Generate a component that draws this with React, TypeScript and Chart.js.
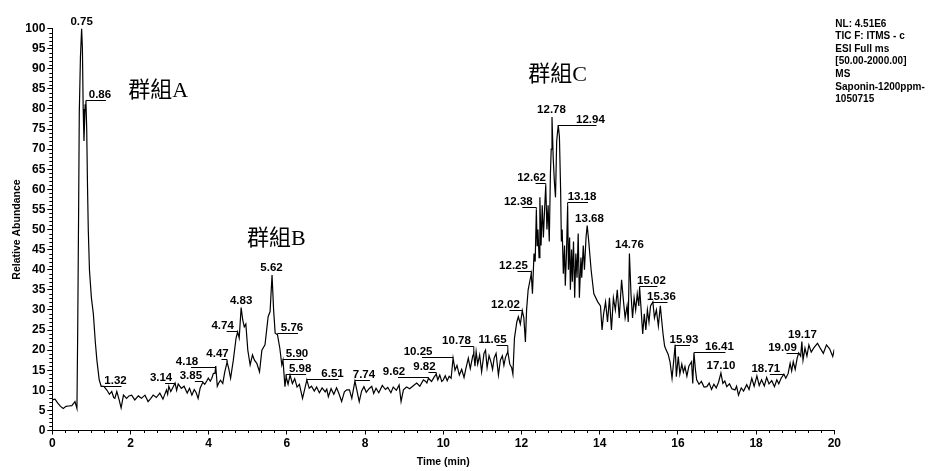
import React, { useEffect, useRef } from "react";
import { Chart, registerables } from "chart.js";

Chart.register(...registerables);

// Retention time (min)
const times = [
  0.0, 0.07, 0.14, 0.21, 0.28, 0.35, 0.42, 0.5, 0.55, 0.58, 0.63, 0.65, 0.675, 0.69, 0.72, 0.75, 0.77, 0.79, 0.81, 0.84,
  0.86, 0.88, 0.9, 0.92, 0.95, 1.0, 1.05, 1.1, 1.14, 1.2, 1.25, 1.32, 1.4, 1.46, 1.52, 1.57, 1.6, 1.65, 1.71, 1.76,
  1.82, 1.9, 1.96, 2.03, 2.11, 2.2, 2.28, 2.37, 2.45, 2.52, 2.58, 2.66, 2.75, 2.83, 2.92, 2.95, 2.98, 3.03, 3.1, 3.14,
  3.18, 3.22, 3.3, 3.37, 3.45, 3.51, 3.57, 3.63, 3.68, 3.73, 3.78, 3.85, 3.9, 3.95, 3.99, 4.04, 4.08, 4.12, 4.16, 4.18,
  4.22, 4.25, 4.3, 4.36, 4.41, 4.47, 4.51, 4.56, 4.63, 4.7, 4.74, 4.78, 4.83, 4.87, 4.91, 4.95, 5.0, 5.06, 5.12, 5.17,
  5.23, 5.3, 5.36, 5.44, 5.52, 5.57, 5.62, 5.66, 5.7, 5.76, 5.82, 5.87, 5.9, 5.95, 5.98, 6.03, 6.08, 6.14, 6.2, 6.26,
  6.32, 6.4, 6.46, 6.51, 6.57, 6.63, 6.7, 6.76, 6.83, 6.9, 6.98, 7.02, 7.06, 7.13, 7.2, 7.27, 7.33, 7.4, 7.47, 7.53,
  7.6, 7.66, 7.74, 7.79, 7.85, 7.91, 7.97, 8.03, 8.1, 8.17, 8.22, 8.28, 8.35, 8.44, 8.52, 8.58, 8.66, 8.72, 8.8, 8.87,
  8.92, 8.98, 9.06, 9.14, 9.24, 9.32, 9.4, 9.49, 9.55, 9.58, 9.62, 9.7, 9.76, 9.82, 9.86, 9.91, 9.96, 10.0, 10.05, 10.1,
  10.15, 10.2, 10.25, 10.3, 10.35, 10.41, 10.47, 10.53, 10.58, 10.64, 10.69, 10.75, 10.78, 10.81, 10.84, 10.88, 10.93, 10.98, 11.04, 11.08,
  11.12, 11.17, 11.22, 11.26, 11.3, 11.35, 11.41, 11.46, 11.51, 11.55, 11.59, 11.65, 11.7, 11.75, 11.78, 11.82, 11.88, 11.92, 11.97, 12.02,
  12.06, 12.1, 12.13, 12.17, 12.21, 12.25, 12.28, 12.32, 12.35, 12.38, 12.4, 12.42, 12.45, 12.47, 12.5, 12.53, 12.56, 12.59, 12.62, 12.65,
  12.68, 12.71, 12.74, 12.76, 12.78, 12.81, 12.84, 12.87, 12.9, 12.94, 12.97, 13.0, 13.02, 13.04, 13.07, 13.1, 13.12, 13.15, 13.18, 13.2,
  13.23, 13.25, 13.28, 13.3, 13.33, 13.36, 13.39, 13.42, 13.45, 13.48, 13.52, 13.54, 13.58, 13.61, 13.65, 13.68, 13.72, 13.78, 13.85, 13.95,
  14.02, 14.06, 14.1, 14.15, 14.2, 14.25, 14.3, 14.35, 14.4, 14.45, 14.5, 14.56, 14.6, 14.65, 14.7, 14.73, 14.76, 14.8, 14.84, 14.88,
  14.92, 14.96, 15.0, 15.02, 15.06, 15.1, 15.14, 15.18, 15.22, 15.26, 15.3, 15.36, 15.4, 15.45, 15.5, 15.55, 15.58, 15.62, 15.66, 15.7,
  15.75, 15.8, 15.85, 15.88, 15.93, 15.96, 16.01, 16.05, 16.1, 16.14, 16.18, 16.23, 16.28, 16.35, 16.38, 16.41, 16.45, 16.48, 16.54, 16.6,
  16.67, 16.74, 16.8, 16.86, 16.92, 16.98, 17.04, 17.1, 17.15, 17.2, 17.25, 17.32, 17.38, 17.46, 17.5, 17.55, 17.62, 17.68, 17.76, 17.82,
  17.89, 17.95, 18.02, 18.08, 18.14, 18.21, 18.27, 18.33, 18.4, 18.47, 18.53, 18.58, 18.64, 18.71, 18.76, 18.82, 18.87, 18.91, 18.95, 19.0,
  19.05, 19.09, 19.14, 19.17, 19.2, 19.25, 19.3, 19.35, 19.41, 19.48, 19.57, 19.64, 19.72, 19.8, 19.88, 19.96, 20.0,
];

// Relative abundance (%)
const abundance = [
  7.6, 7.8, 6.8, 6.0, 5.5, 6.0, 6.1, 6.2, 6.8, 7.2, 5.5, 25, 57, 79, 93, 100, 95, 80, 72, 81,
  82, 75, 61, 50, 40, 33, 29, 22, 17.5, 12.6, 11, 11, 10, 9, 9.7, 8.2, 8, 9.7, 7.6, 5.6,
  8.8, 8, 8.6, 8.8, 7.6, 8.6, 8, 8.8, 7.2, 8.0, 8.8, 8.2, 9.3, 7.8, 10.1, 9.0, 11.0, 9.7, 11.0, 11.8,
  10.0, 11.6, 10.5, 11.0, 9.3, 10.5, 8.8, 10.2, 9.4, 8.0, 10.5, 12.0, 11.5, 12.3, 13.0, 12.3, 13.0, 14.2, 14.2, 16.0,
  11.0, 11.7, 12.5, 11.7, 14.5, 17.0, 15.5, 13.0, 17.5, 23, 24.5, 23, 30.6, 27.5, 25.8, 26.5, 20, 16.3, 18.8, 17.5,
  16.7, 14.6, 20, 21.3, 28.3, 29.6, 38.7, 30, 24.2, 23.8, 20.4, 16.3, 17.5, 10.9, 13.4, 11.5, 13.8, 11.7, 12.9, 10.8,
  11.5, 8, 10.5, 12.6, 10.5, 11.0, 9.8, 10.8, 9.4, 10.6, 9.6, 10.3, 8.4, 10.4, 9.0, 10.6, 9.2, 7.2, 9.6, 10.1,
  10.1, 8.0, 12.3, 10.0, 7.2, 9.8, 10.9, 9.5, 10.4, 11.0, 9.2, 10.5, 9.4, 11.2, 10.2, 10.7, 9.4, 10.8, 10.0, 11.3,
  7.2, 10.1, 10.8, 10.4, 11.2, 11.8, 11.0, 12.6, 12.2, 11.8, 13.0, 12.2, 13.2, 14.0, 12.6, 13.8, 12.2, 12.6, 13.6, 12.4,
  13.5, 13.0, 18, 15, 16.2, 13.8, 15.2, 13.2, 15.5, 18, 15.4, 18.4, 19.2, 16.0, 19.6, 16.5, 18.8, 14.6, 19.2, 20.0,
  15.6, 18.6, 17.0, 15.2, 18.0, 19.2, 13.8, 17.5, 18.6, 16.2, 18.2, 19.6, 16.5, 15.6, 14.0, 23, 27, 28.3, 26.5, 29.8,
  28, 22, 30, 35, 37, 39, 34, 44, 42, 55, 46, 50, 43, 58, 46, 56, 48, 55, 61, 50,
  56, 47, 64, 70, 78, 68, 62, 58, 72, 76, 73, 60, 47, 50, 39, 46, 36, 44, 56, 40,
  48, 35, 45, 37, 47, 33, 44, 38, 49, 33, 43, 38, 46, 40, 48, 51, 47, 40, 34, 32,
  31, 25, 29, 32, 27, 33, 25, 33, 30, 35, 28, 37.5, 33, 28, 31, 27, 44, 34, 28, 33,
  30, 34, 31, 35.7, 30, 24, 29, 25, 30, 27, 31, 32, 28, 30, 26, 31, 28, 24, 21, 20,
  19, 17, 13, 16, 21.3, 13.4, 18.4, 14, 16.5, 14.5, 15.9, 13.5, 16, 17.1, 11.7, 19.3, 15, 12.6, 11.5, 12.2,
  10.8, 10.9, 11.8, 10.2, 11.5, 10.6, 12.0, 14.3, 11.7, 12.3, 10.9, 11.6, 10.4, 10.1, 11.0, 8.8, 10.6, 9.8, 11.4, 10.2,
  13.0, 11.0, 13.6, 11.2, 12.6, 11.1, 13.2, 11.6, 12.4, 10.9, 12.6, 11.6, 13.0, 14.0, 13.0, 14.2, 16.7, 14.8, 17.1, 15.2,
  18.0, 19.3, 18.5, 22.1, 17.5, 20.5, 18.5, 21.3, 19.5, 20.6, 21.7, 20.5, 19.2, 21.3, 20.3, 18.4, 20.2,
];

// Labelled peaks (retention time)
const peakTimes = [
  0.75, 0.86, 1.32, 3.14, 3.85, 4.18, 4.47, 4.74, 4.83, 5.62, 5.76, 5.9, 5.98, 6.51, 7.74, 9.62, 9.82, 10.25,
  10.78, 11.65, 12.02, 12.25, 12.38, 12.62, 12.78, 12.94, 13.18, 13.68, 14.76, 15.02, 15.36, 15.93, 16.41,
  17.1, 18.71, 19.09, 19.17,
];

// Label placement relative to peak apex (pixels): [dx, dy]
const labelOffsets: [number, number][] = [
  [0, -3.5], [14, -3], [11.6, -2.3], [-14, -2], [-12, -3.3], [-28.7, -1.5], [-9.6, -5.5], [-15, -3], [0, -3.5],
  [-0.5, -4.2], [14.5, -4.1], [14, -3.5], [14, -4.9], [25.7, -2.4], [9, -3.4], [-34.4, -3.2], [-11.8, -4.2],
  [-35, -3.1], [-17.3, -9.3], [-15.3, -9], [-16.8, -2.5], [-17.8, -4.7], [-18, -4.4], [-14.2, -4.6], [-0.5, -3.6],
  [32.2, -2.3], [14.4, -5.4], [2.3, -3.8], [0, -5.6], [11.9, -3], [8.6, -2.3], [8.8, -2.3], [25.5, -3], [0, -4],
  [-18, -2.5], [-16.2, -2], [0.6, -3.7],
];

// Group annotations
const groupNames = ["群組A", "群組B", "群組C"];
const groupTimes = [1.94, 4.98, 12.17];
const groupLevels = [83, 46.1, 86.9];

// Instrument info
const infoLines = [
  "NL: 4.51E6",
  "TIC F: ITMS - c",
  "ESI Full ms",
  "[50.00-2000.00]",
  "MS",
  "Saponin-1200ppm-",
  "1050715",
];

const SANS = '"Liberation Sans", Arial, Helvetica, sans-serif';

const extrasPlugin = {
  id: "extras",
  afterDatasetsDraw(chart: any) {
    const { ctx, chartArea } = chart;
    const xs = chart.scales.x;
    const ys = chart.scales.y;
    ctx.save();
    ctx.strokeStyle = "#000";
    ctx.fillStyle = "#000";
    ctx.lineWidth = 1;

    // minor ticks on y
    ctx.beginPath();
    for (let v = 0; v <= 100; v++) {
      if (v % 5 === 0) continue;
      const y = Math.round(ys.getPixelForValue(v)) + 0.5;
      ctx.moveTo(chartArea.left - 3, y);
      ctx.lineTo(chartArea.left, y);
    }
    // minor ticks on x (every 1/3 min)
    for (let k = 0; k <= 60; k++) {
      if (k % 6 === 0) continue;
      const x = Math.round(xs.getPixelForValue(k / 3)) + 0.5;
      ctx.moveTo(x, chartArea.bottom);
      ctx.lineTo(x, chartArea.bottom + 2.5);
    }
    ctx.stroke();

    // peak labels
    ctx.font = `bold 11.5px ${SANS}`;
    ctx.textAlign = "center";
    ctx.textBaseline = "alphabetic";
    peakTimes.forEach((pt, i) => {
      let best = 0;
      for (let j = 1; j < times.length; j++) {
        if (Math.abs(times[j] - pt) < Math.abs(times[best] - pt)) best = j;
      }
      const ax = xs.getPixelForValue(times[best]);
      const ay = ys.getPixelForValue(abundance[best]);
      const [dx, dy] = labelOffsets[i];
      const cx = ax + dx;
      const by = ay + dy;
      ctx.fillText(pt.toFixed(2), cx, by);
      if (Math.abs(dx) > 4) {
        const ly = Math.round(by + 2) + 0.5;
        ctx.beginPath();
        ctx.moveTo(cx + (dx > 0 ? 6 : 4), ly);
        ctx.lineTo(ax, ly);
        ctx.lineTo(ax, ay);
        ctx.stroke();
      }
    });

    // group annotations
    ctx.font = `22px "Liberation Serif", "Noto Sans CJK TC", serif`;
    ctx.textAlign = "left";
    groupNames.forEach((g, i) => {
      ctx.fillText(g, xs.getPixelForValue(groupTimes[i]), ys.getPixelForValue(groupLevels[i]));
    });

    // info text
    ctx.font = `bold 10px ${SANS}`;
    infoLines.forEach((s, i) => {
      ctx.fillText(s, chartArea.right + 1, 26.5 + i * 12.6);
    });
    ctx.restore();
  },
};

export default function App() {
  const ref = useRef<HTMLCanvasElement | null>(null);
  useEffect(() => {
    if (!ref.current) return;
    const chart = new Chart(ref.current, {
      type: "line",
      data: {
        datasets: [
          {
            data: times.map((t, i) => ({ x: t, y: abundance[i] })),
            borderColor: "#000",
            borderWidth: 1.2,
            pointRadius: 0,
            tension: 0,
            fill: false,
          },
        ],
      },
      options: {
        animation: false,
        responsive: true,
        maintainAspectRatio: false,
        layout: { padding: { left: 0, right: 98.7, top: 28.5, bottom: 0 } },
        plugins: { legend: { display: false }, tooltip: { enabled: false } },
        scales: {
          x: {
            type: "linear",
            min: 0,
            max: 20,
            afterFit: (s: any) => {
              s.height = 40.5;
            },
            ticks: {
              stepSize: 2,
              color: "#000",
              font: { family: SANS, weight: "bold", size: 12 },
              padding: 2,
              maxRotation: 0,
              autoSkip: false,
            },
            grid: { display: true, drawOnChartArea: false, tickLength: 4, color: "#000" },
            border: { display: true, color: "#000", width: 1 },
            title: {
              display: true,
              text: "Time (min)",
              color: "#000",
              font: { family: SANS, weight: "bold", size: 10.5 },
              padding: { top: 0, bottom: 3 },
            },
          },
          y: {
            min: 0,
            max: 100,
            afterFit: (s: any) => {
              s.width = 52.3;
            },
            ticks: {
              stepSize: 5,
              color: "#000",
              font: { family: SANS, weight: "bold", size: 12 },
              padding: 2,
              autoSkip: false,
            },
            grid: { display: true, drawOnChartArea: false, tickLength: 5, color: "#000" },
            border: { display: true, color: "#000", width: 1 },
            title: {
              display: true,
              text: "Relative Abundance",
              color: "#000",
              font: { family: SANS, weight: "bold", size: 10.5 },
              padding: { top: 11, bottom: 0 },
            },
          },
        },
      },
      plugins: [extrasPlugin],
    });
    return () => chart.destroy();
  }, []);
  return (
    <div style={{ position: "fixed", left: 0, top: 0, width: 933, height: 471, background: "#fff" }}>
      <canvas ref={ref} />
    </div>
  );
}
